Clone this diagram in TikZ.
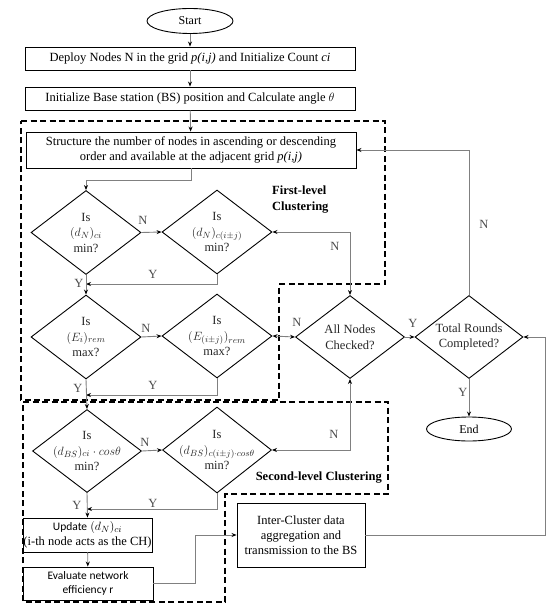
\documentclass[tikz,border=0pt]{standalone}
\usepackage{fontspec}
\setmainfont{Liberation Serif}
\newfontfamily\califont{Carlito}
\usetikzlibrary{shapes.geometric,arrows.meta}
\begin{document}
\begin{tikzpicture}[x=1pt,y=-1pt,
  box/.style={draw,line width=0.9pt,inner sep=0pt,font=\fontsize{12.5}{15}\selectfont,align=center},
  dia/.style={draw,diamond,line width=0.9pt,inner sep=0pt,minimum width=110pt,minimum height=84pt},
  dtxt/.style={align=center,inner sep=0pt,font=\fontsize{12.5}{15.5}\selectfont,text=black!85},
  ell/.style={draw,ellipse,line width=0.9pt,inner sep=0pt,minimum width=86pt,minimum height=25pt,font=\fontsize{12}{14}\selectfont},
  conn/.style={draw=black!50,line width=0.9pt,-{Stealth[length=5pt,width=4pt,color=black]}},
  conntwo/.style={draw=black!50,line width=0.9pt,{Stealth[length=5pt,width=4pt,color=black]}-{Stealth[length=5pt,width=4pt,color=black]}},
  lbl/.style={font=\fontsize{12.5}{15}\selectfont,text=black!70,inner sep=0pt},
  grp/.style={dash pattern=on 6pt off 3.5pt,line width=1.7pt},
  grplbl/.style={font=\fontsize{12.5}{16}\selectfont\bfseries,align=left,inner sep=0pt}
]
\useasboundingbox (0,0) rectangle (550,609);

% cluster regions
\draw[grp] (21,121) -- (385,121) -- (385,284) -- (279,284) -- (279,400) -- (21,400) -- cycle;
\draw[grp] (23,402) -- (388,402) -- (388,494) -- (225,494) -- (225,602) -- (23,602) -- cycle;

% nodes
\node[ell] (start) at (190,21) {Start};
\node[box,minimum width=330pt,minimum height=23pt] (deploy) at (190,58.5)
  {Deploy Nodes N in the grid \textit{p(i,j)} and Initialize Count \textit{ci}};
\node[box,minimum width=330pt,minimum height=23pt] (init) at (190,98.5)
  {Initialize Base station (BS) position and Calculate angle $\theta$};
\node[box,minimum width=330pt,minimum height=36pt] (struct) at (191,150)
  {Structure the number of nodes in ascending or descending\\order and available at the adjacent grid \textit{p(i,j)}};

\node[dia] (d1) at (86,232.5) {};
\node[dtxt] (d1t) at (d1.center) {Is\\$(d_N)_{ci}$\\min?};
\node[dia] (d2) at (217,232) {};
\node[dtxt] (d2t) at (d2.center) {Is\\$(d_N)_{c(i\pm j)}$\\min?};
\node[dia] (d3) at (86,337) {};
\node[dtxt] (d3t) at (d3.center) {Is\\$(E_i)_{rem}$\\max?};
\node[dia] (d4) at (217,336) {};
\node[dtxt] (d4t) at (d4.center) {Is\\$\big(E_{(i\pm j)}\big)_{rem}$\\max?};
\node[dia,minimum width=109pt,minimum height=83pt] (all) at (350,337) {};
\node[dtxt] (allt) at (all.center) {All Nodes\\Checked?};
\node[dia,minimum width=108pt,minimum height=83pt] (total) at (469,337) {};
\node[dtxt] (totalt) at (total.center) {Total Rounds\\Completed?};
\node[ell,minimum width=85pt,minimum height=24pt] (end) at (469,429) {End};
\node[dia,minimum width=109pt,minimum height=83pt] (d5) at (87,451) {};
\node[dtxt] (d5t) at (d5.center) {Is\\$(d_{BS})_{ci}\cdot cos\theta$\\min?};
\node[dia,minimum width=109pt,minimum height=86pt] (d6) at (217,450) {};
\node[dtxt] (d6t) at (d6.center) {Is\\$(d_{BS})_{c(i\pm j)\cdot cos\theta}$\\min?};

\node[box,minimum width=129pt,minimum height=34pt] (update) at (87.5,535)
  {{\califont\fontsize{11.5}{14}\selectfont Update} $(d_N)_{ci}$\\(i-th node acts as the CH)};
\node[box,minimum width=130pt,minimum height=33pt,font=\califont\fontsize{11.5}{14.5}\selectfont] (eval) at (88,583.5)
  {Evaluate network\\efficiency r};
\node[box,minimum width=128pt,minimum height=64pt] (inter) at (301,535)
  {Inter-Cluster data\\aggregation and\\transmission to the BS};

\node[grplbl,anchor=north west] (first) at (272,186) {First-level\\Clustering};
\node[grplbl,anchor=east] (second) at (382,478) {Second-level Clustering};

% junction points
\coordinate (j1) at (86,284);
\coordinate (j2) at (86,395);
\coordinate (j3) at (87,509);
\coordinate (j4) at (195,583.5);
\coordinate (j5) at (545,535);

% connectors
\draw[conn] (start) -- (deploy);
\draw[conn] (deploy) -- (init);
\draw[conn] (init) -- (struct);
\draw[conn] (struct.south) -- ++(0,12) -| (d1.north);
\draw[conn] (d1.east) -- (d2.west);
\draw[conn] (d2.south) |- (j1);
\draw[conn] (d1.south) -- (d3.north);
\draw[conn] (d3.east) -- (d4.west);
\draw[conn] (d4.south) |- (j2);
\draw[conn] (d3.south) -- (d5.north);
\draw[conn] (d5.east) -- (d6.west);
\draw[conn] (d6.south) |- (j3);
\draw[conn] (d5.south) -- (update.north);
\draw[conn] (update) -- (eval);
\draw[conn] (eval.east) -- (j4) |- (inter.west);
\draw[conn] (inter.east) -- (j5) |- (total.east);
\draw[conntwo] (d2.east) -| (all.north);
\draw[conntwo] (d4.east) -- (all.west);
\draw[conntwo] (d6.east) -| (all.south);
\draw[conn] (all.east) -- (total.west);
\draw[conn] (total.north) |- (struct.east);
\draw[conn] (total.south) -- (end.north);

% Y / N labels
\node[lbl] (n1) at (143,220) {N};
\node[lbl] (y1) at (153,274) {Y};
\node[lbl] (y2) at (79,283) {Y};
\node[lbl] (n2) at (146,328) {N};
\node[lbl] (y3) at (153,385) {Y};
\node[lbl] (y4) at (78,388) {Y};
\node[lbl] (n3) at (145,442) {N};
\node[lbl] (y5) at (153,503) {Y};
\node[lbl] (y6) at (77,505) {Y};
\node[lbl] (n4) at (335,246) {N};
\node[lbl] (n5) at (297,322) {N};
\node[lbl] (n6) at (334,434) {N};
\node[lbl] (y7) at (413,323) {Y};
\node[lbl] (n7) at (484,224) {N};
\node[lbl] (y8) at (463,392) {Y};
\end{tikzpicture}
\end{document}
